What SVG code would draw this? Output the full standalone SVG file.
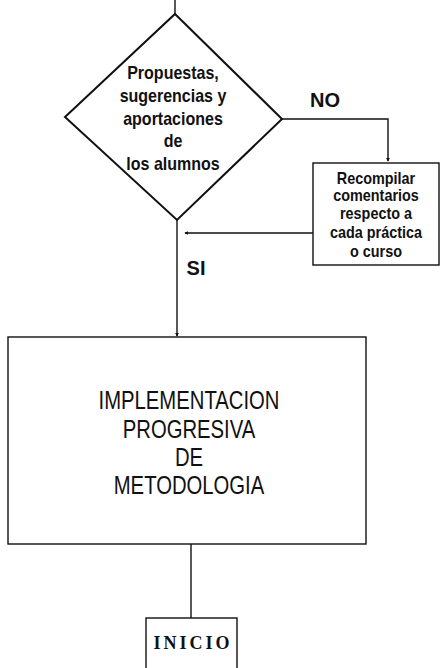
<svg xmlns="http://www.w3.org/2000/svg" width="440" height="668" viewBox="0 0 440 668">
<style>
.ln{fill:none;stroke:#111;stroke-width:1.4}
.shape{fill:#fff;stroke:#111;stroke-width:1.4}
.dia{fill:#fff;stroke:#111;stroke-width:2}
.t{font-family:"Liberation Sans",Arial,sans-serif;fill:#111;text-anchor:middle}
.b{font-weight:bold}
.serif{font-family:"Liberation Serif","Times New Roman",serif;font-weight:bold;fill:#111;text-anchor:middle}
</style>
<defs>
<marker id="ah" viewBox="0 0 6 6" refX="5" refY="3" markerWidth="4" markerHeight="4" orient="auto" markerUnits="userSpaceOnUse">
<path d="M0,0 L6,3 L0,6 z" fill="#111"/>
</marker>
</defs>
<rect width="440" height="668" fill="#fff"/>
<g id="connectors">
<path class="ln" d="M175,0 V14"/>
<path class="ln" d="M282,119 H388 V161" marker-end="url(#ah)"/>
<path class="ln" d="M313,233 H185" marker-end="url(#ah)"/>
<path class="ln" d="M177,220 V336" marker-end="url(#ah)"/>
<path class="ln" d="M191,544 V618"/>
</g>
<g id="decision">
<polygon class="dia" points="175,14 282,119 177,220 65,117"/>
<g transform="translate(173,0) scale(0.89,1) translate(-173,0)">
<text class="t b" font-size="18" x="173" y="79">Propuestas,</text>
<text class="t b" font-size="18" x="173" y="102">sugerencias y</text>
<text class="t b" font-size="18" x="173" y="125">aportaciones</text>
<text class="t b" font-size="18" x="173" y="147">de</text>
<text class="t b" font-size="18" x="173" y="170">los alumnos</text>
</g>
</g>
<g id="label-no"><text class="t b" font-size="20" x="325" y="107">NO</text></g>
<g id="label-si"><text class="t b" font-size="20" x="196" y="275">SI</text></g>
<g id="recompilar">
<rect class="shape" x="313" y="163" width="126" height="102"/>
<g transform="translate(376,0) scale(0.9,1) translate(-376,0)">
<text class="t b" font-size="16" x="376" y="184">Recompilar</text>
<text class="t b" font-size="16" x="376" y="201">comentarios</text>
<text class="t b" font-size="16" x="376" y="219">respecto a</text>
<text class="t b" font-size="16" x="376" y="238">cada práctica</text>
<text class="t b" font-size="16" x="376" y="257">o curso</text>
</g>
</g>
<g id="implementacion">
<rect class="shape" x="8" y="337" width="358" height="207"/>
<g transform="translate(189,0) scale(0.78,1) translate(-189,0)">
<text class="t" font-size="26" x="189" y="409">IMPLEMENTACION</text>
<text class="t" font-size="26" x="189" y="438">PROGRESIVA</text>
<text class="t" font-size="26" x="189" y="466">DE</text>
<text class="t" font-size="26" x="189" y="494">METODOLOGIA</text>
</g>
</g>
<g id="inicio">
<rect class="shape" x="146" y="618" width="91" height="60"/>
<text class="serif" font-size="18" letter-spacing="3" x="193" y="649">INICIO</text>
</g>
</svg>
